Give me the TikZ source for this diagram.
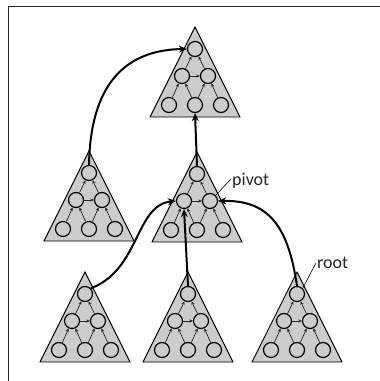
\documentclass[tikz,border=0pt]{standalone}
\usepackage{fontspec}
\setmainfont{Carlito}
\usetikzlibrary{arrows.meta}
\tikzset{
  tri/.style={draw=black, line width=0.9pt, fill=black!20, line join=miter},
  vert/.style={circle, draw=black, line width=1.2pt, fill=black!20, minimum size=15pt, inner sep=0pt},
  link/.style={draw=black!85, line width=0.7pt, -{Stealth[length=3.6pt,width=3.2pt]}},
  conn/.style={draw=black, line width=2pt, -{Stealth[length=8pt,width=7pt]}},
  leader/.style={draw=black, line width=0.6pt},
  lbl/.style={font=\fontsize{18}{20}\selectfont, inner sep=1pt, text=black!85},
  heap/.pic={
    \draw[tri] (0,0) -- (-45,90) -- (45,90) -- cycle;
    \node[vert] (-t) at (0,22) {};
    \node[vert] (-l) at (-13,49) {};
    \node[vert] (-r) at (13,49) {};
    \node[vert] (-a) at (-26,78) {};
    \node[vert] (-b) at (0,78) {};
    \node[vert] (-c) at (26,78) {};
    \draw[link] (-a) -- (-l);
    \draw[link] (-b) -- (-l);
    \draw[link] (-b) -- (-r);
    \draw[link] (-c) -- (-r);
    \draw[link] (-l) -- (-r);
    \draw[link] (-l) -- (-t);
    \draw[link] (-r) -- (-t);
  }
}
\begin{document}
\begin{tikzpicture}[x=1pt,y=-1pt]
  \useasboundingbox (0,0) rectangle (380,381);
  % frame edges
  \draw[line width=1.2pt, black!85] (8.5,381) -- (8.5,6.5) -- (380,6.5);

  % six heaps
  \pic (T)  at (195,27)  {heap};
  \pic (L)  at (89,151)  {heap};
  \pic (M)  at (197,152) {heap};
  \pic (BL) at (85,272)  {heap};
  \pic (BM) at (188,272) {heap};
  \pic (BR) at (297,272) {heap};

  % links between heaps
  \draw[conn] (L-t.north) .. controls (90,105) and (110,50) .. (T-t.west);
  \draw[conn] (M-t.north) -- (T-b.south);
  \draw[conn] (BL-t.north east) .. controls (140,270) and (135,205) .. (M-l.west);
  \draw[conn] (BM-t.north) -- (M-l.south);
  \draw[conn] (BR-t.north) .. controls (288,225) and (268,200) .. (M-r.east);

  % labels
  \node[lbl, anchor=west] (pivot) at (231,181) {pivot};
  \draw[leader] ([yshift=2pt]pivot.west) -- (M-r.north east);
  \node[lbl, anchor=west] (root) at (316,263) {root};
  \draw[leader] (root.west) -- (BR-t.north east);
\end{tikzpicture}
\end{document}
